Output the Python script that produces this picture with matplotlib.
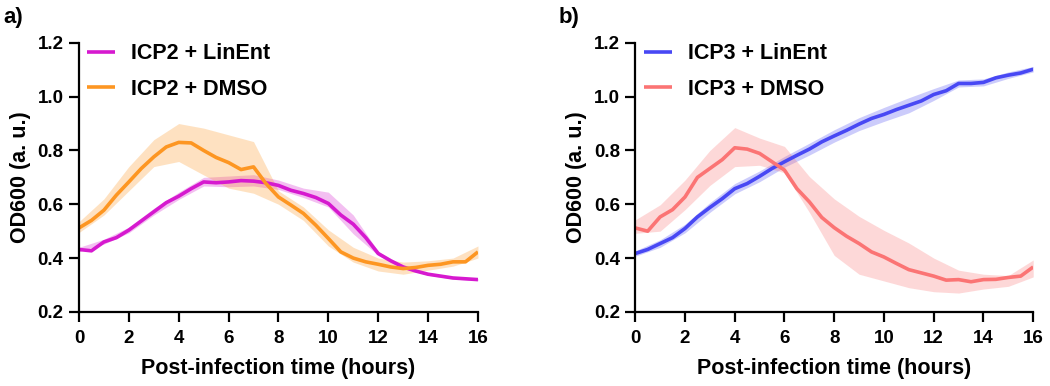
import numpy as np
import matplotlib
matplotlib.use("Agg")
import matplotlib.pyplot as plt

plt.rcParams["font.family"] = ["Liberation Sans", "DejaVu Sans"]
plt.rcParams["font.weight"] = "bold"

# ---------------------------------------------------------------------------
# Data
# ---------------------------------------------------------------------------
time_h = np.arange(0, 16.01, 0.5)
band_t = np.arange(0, 17, 1)

icp2_linent = [0.432, 0.427, 0.460, 0.476, 0.504, 0.538, 0.572, 0.606, 0.630,
               0.658, 0.683, 0.680, 0.683, 0.688, 0.686, 0.680, 0.670, 0.652,
               0.640, 0.625, 0.603, 0.560, 0.526, 0.476, 0.417, 0.390, 0.367,
               0.352, 0.340, 0.333, 0.326, 0.323, 0.320]
icp2_linent_hi = [0.440, 0.470, 0.515, 0.585, 0.645, 0.700, 0.705, 0.710, 0.690,
                  0.660, 0.645, 0.560, 0.425, 0.372, 0.344, 0.330, 0.324]
icp2_linent_lo = [0.424, 0.452, 0.494, 0.560, 0.618, 0.668, 0.665, 0.668, 0.655,
                  0.625, 0.590, 0.490, 0.410, 0.362, 0.336, 0.322, 0.316]

icp2_dmso = [0.512, 0.540, 0.578, 0.634, 0.683, 0.733, 0.776, 0.813, 0.830,
             0.828, 0.800, 0.774, 0.755, 0.729, 0.739, 0.677, 0.627, 0.597,
             0.566, 0.522, 0.473, 0.423, 0.400, 0.386, 0.377, 0.367, 0.361,
             0.365, 0.373, 0.377, 0.386, 0.386, 0.423]
icp2_dmso_hi = [0.535, 0.620, 0.740, 0.840, 0.900, 0.883, 0.858, 0.833, 0.650,
                0.590, 0.505, 0.440, 0.400, 0.385, 0.390, 0.400, 0.445]
icp2_dmso_lo = [0.495, 0.560, 0.650, 0.740, 0.759, 0.709, 0.660, 0.641, 0.600,
                0.540, 0.445, 0.385, 0.352, 0.340, 0.355, 0.370, 0.400]

icp3_linent = [0.417, 0.432, 0.454, 0.476, 0.510, 0.553, 0.588, 0.621, 0.658,
               0.677, 0.704, 0.733, 0.758, 0.782, 0.805, 0.832, 0.854, 0.875,
               0.898, 0.919, 0.934, 0.952, 0.968, 0.984, 1.008, 1.022, 1.049,
               1.049, 1.053, 1.070, 1.080, 1.088, 1.102]
icp3_linent_hi = [0.427, 0.468, 0.526, 0.606, 0.677, 0.724, 0.778, 0.827, 0.877,
                  0.922, 0.960, 0.996, 1.030, 1.062, 1.066, 1.092, 1.112]
icp3_linent_lo = [0.407, 0.440, 0.494, 0.570, 0.639, 0.684, 0.738, 0.783, 0.831,
                  0.874, 0.908, 0.940, 0.986, 1.036, 1.040, 1.068, 1.092]

icp3_dmso = [0.512, 0.500, 0.553, 0.580, 0.627, 0.700, 0.733, 0.766, 0.810,
             0.805, 0.789, 0.758, 0.727, 0.658, 0.609, 0.551, 0.513, 0.481,
             0.454, 0.423, 0.404, 0.380, 0.357, 0.345, 0.333, 0.318, 0.320,
             0.312, 0.320, 0.321, 0.328, 0.333, 0.367]
icp3_dmso_hi = [0.542, 0.598, 0.690, 0.800, 0.885, 0.846, 0.815, 0.703, 0.620,
                0.555, 0.503, 0.456, 0.400, 0.355, 0.340, 0.335, 0.393]
icp3_dmso_lo = [0.492, 0.500, 0.580, 0.670, 0.740, 0.745, 0.717, 0.570, 0.410,
                0.340, 0.315, 0.290, 0.275, 0.270, 0.285, 0.295, 0.330]

panels = [
    ("a)", [("ICP2 + LinEnt", icp2_linent, icp2_linent_lo, icp2_linent_hi, "#d619cf"),
            ("ICP2 + DMSO", icp2_dmso, icp2_dmso_lo, icp2_dmso_hi, "#fd9622")]),
    ("b)", [("ICP3 + LinEnt", icp3_linent, icp3_linent_lo, icp3_linent_hi, "#4848f4"),
            ("ICP3 + DMSO", icp3_dmso, icp3_dmso_lo, icp3_dmso_hi, "#fb7474")]),
]

fig = plt.figure(figsize=(10.5, 3.86), dpi=100)
axes_pos = [[0.0752, 0.192, 0.380, 0.697], [0.605, 0.192, 0.379, 0.697]]
label_x = [0.003, 0.532]

for (tag, series), pos, lx in zip(panels, axes_pos, label_x):
    ax = fig.add_axes(pos)
    # bands first so that both lines sit on top
    for name, y, lo, hi, col in series:
        ax.fill_between(band_t, lo, hi, color=col, alpha=0.28, lw=0)
    for name, y, lo, hi, col in series:
        ax.plot(time_h, y, color=col, lw=2.6, label=name, solid_capstyle="butt")

    ax.set_xlim(0, 16)
    ax.set_ylim(0.2, 1.2)
    ax.set_xticks(range(0, 17, 2))
    ax.set_yticks([0.2, 0.4, 0.6, 0.8, 1.0, 1.2])
    ax.yaxis.set_major_formatter(matplotlib.ticker.FormatStrFormatter("%.1f"))
    for s in ("top", "right"):
        ax.spines[s].set_visible(False)
    for s in ("left", "bottom"):
        ax.spines[s].set_linewidth(1.6)
    ax.tick_params(width=1.6, length=7, pad=4, labelsize=13.5)
    ax.tick_params(axis="x", pad=6)
    for lab in ax.get_xticklabels() + ax.get_yticklabels():
        lab.set_fontweight("bold")
    ax.set_xlabel("Post-infection time (hours)", fontsize=15.5, fontweight="bold", labelpad=8)
    ax.set_ylabel("OD600 (a. u.)", fontsize=15.5, fontweight="bold", labelpad=5)

    ax.legend(loc="upper left", bbox_to_anchor=(0.01, 1.015), frameon=False,
              prop={"size": 15.5, "weight": "bold"}, handlelength=1.3,
              handletextpad=0.75, labelspacing=0.68, borderpad=0.2, borderaxespad=0.0)
    fig.text(lx, 0.955, tag, fontsize=16, fontweight="bold", va="center")

fig.savefig("out.png", dpi=100)
